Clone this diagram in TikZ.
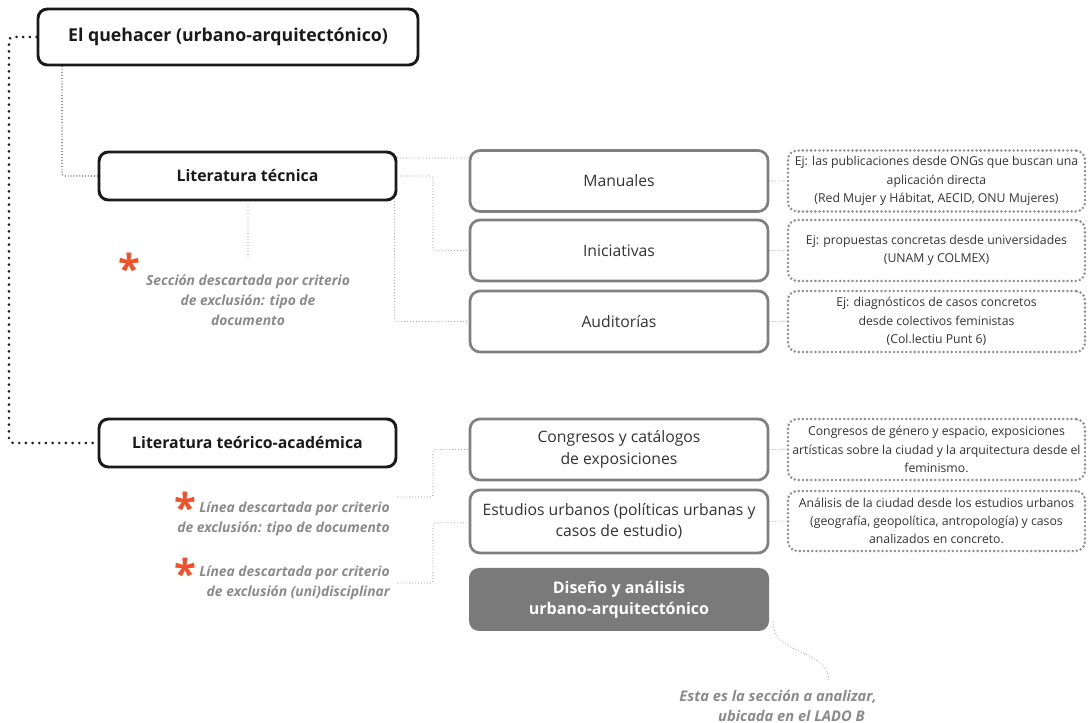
\documentclass[tikz,border=0pt]{standalone}
\usepackage{fontspec}
\setmainfont{Open Sans}
\usetikzlibrary{calc}
\definecolor{boxblack}{HTML}{1A1A1A}
\definecolor{boxgray}{HTML}{7F7F7F}
\definecolor{txtdark}{HTML}{333333}
\definecolor{notegray}{HTML}{8A8A8A}
\definecolor{dotgray}{HTML}{9A9A9A}
\definecolor{boxdot}{HTML}{8E8E8E}
\definecolor{fillgray}{HTML}{7A7A7A}
\definecolor{astred}{HTML}{F0502A}
\tikzset{
  mainbox/.style={draw=boxblack,line width=2.2pt,rounded corners=7pt,fill=white,
    text=boxblack,font=\bfseries,inner sep=0pt},
  subbox/.style={draw=boxgray,line width=2pt,rounded corners=7.5pt,fill=white,
    text=txtdark,font=\fontsize{11.8}{16}\selectfont,align=center,inner sep=0pt,
    minimum width=223.5pt,minimum height=45.75pt},
  graybox/.style={fill=fillgray,rounded corners=7.5pt,text=white,
    font=\fontsize{12}{16}\selectfont\bfseries,align=center,inner sep=0pt,
    minimum width=225pt,minimum height=47.25pt},
  notebox/.style={draw=boxdot,line width=2.1pt,dash pattern=on 0pt off 3.1pt,line cap=round,
    rounded corners=7pt,text=txtdark,font=\fontsize{9.2}{13.7}\selectfont,align=center,
    inner sep=0pt,minimum width=222.75pt,minimum height=45.75pt},
  thickdot/.style={draw=boxblack,line width=2.2pt,dash pattern=on 0pt off 5pt,line cap=round,rounded corners=3pt},
  blackdot/.style={draw=boxblack,line width=0.9pt,dash pattern=on 0pt off 2.2pt,line cap=round,rounded corners=2pt},
  graydot/.style={draw=dotgray,line width=0.8pt,dash pattern=on 0pt off 2.2pt,line cap=round,rounded corners=2pt},
  notetext/.style={text=notegray,font=\fontsize{10.4}{15}\selectfont\bfseries\itshape,inner sep=0pt},
  ast/.style={text=astred,font=\fontsize{30}{30}\selectfont\bfseries,inner sep=0pt,anchor=base}
}
\begin{document}
\begin{tikzpicture}[x=0.75pt,y=-0.75pt]
\useasboundingbox (0,0) rectangle (1090,723);
% main boxes
\node[mainbox,minimum width=285pt,minimum height=42pt,font=\fontsize{13.3}{15}\selectfont\bfseries] (top) at (228,37) {El quehacer (urbano-arquitectónico)};
\node[mainbox,minimum width=222.75pt,minimum height=36pt,font=\fontsize{11.9}{14}\selectfont\bfseries] (littec) at (247.5,176) {Literatura técnica};
\node[mainbox,minimum width=222.75pt,minimum height=36pt,font=\fontsize{11.9}{14}\selectfont\bfseries] (litteo) at (247.5,443) {Literatura teórico-académica};
% sub boxes
\node[subbox] (man) at (619,181) {Manuales};
\node[subbox] (ini) at (619,250.5) {Iniciativas};
\node[subbox] (aud) at (619,321.5) {Auditorías};
\node[subbox] (cong) at (619,449.5) {Congresos y catálogos\\de exposiciones};
\node[subbox,minimum height=47.25pt] (est) at (619,521.5) {Estudios urbanos (políticas urbanas y\\casos de estudio)};
\node[graybox] (dis) at (619,599.5) {Diseño y análisis\\urbano-arquitectónico};
% right notes
\node[notebox] (manr) at (936.5,181) {Ej: las publicaciones desde ONGs que buscan una\\aplicación directa\\(Red Mujer y Hábitat, AECID, ONU Mujeres)};
\node[notebox] (inir) at (936.5,250.5) {Ej: propuestas concretas desde universidades\\(UNAM y COLMEX)};
\node[notebox] (audr) at (936.5,321.5) {Ej: diagnósticos de casos concretos\\desde colectivos feministas\\(Col.lectiu Punt 6)};
\node[notebox] (congr) at (936.5,449.5) {Congresos de género y espacio, exposiciones\\artísticas sobre la ciudad y la arquitectura desde el\\feminismo.};
\node[notebox,minimum height=45pt] (estr) at (936.5,521) {Análisis de la ciudad desde los estudios urbanos\\(geografía, geopolítica, antropología) y casos\\analizados en concreto.};
% annotations
\node[notetext,align=center] (note0) at (248,300) {Sección descartada por criterio\\de exclusión: tipo de\\documento};
\node[ast] (ast0) at (129,284) {\smash{*}};
\node[notetext,align=right,anchor=east] (note1) at (390,519) {Línea descartada por criterio\\de exclusión: tipo de documento};
\node[ast] (ast1) at (185,523) {\smash{*}};
\node[notetext,align=right,anchor=east] (note2) at (390,583) {Línea descartada por criterio\\de exclusión (uni)disciplinar};
\node[ast] (ast2) at (185,589) {\smash{*}};
\node[notetext,align=right,anchor=east,font=\fontsize{11}{14.5}\selectfont\bfseries\itshape] (note3) at (877,706) {Esta es la sección a analizar,\\ubicada en el LADO B\hspace*{9pt}};
% helper coordinates
\coordinate (xL) at (9,0);
\coordinate (xT) at (62,0);
\coordinate (xK) at (433,0);
\coordinate (d0) at (248,259);
\coordinate (n1) at (398,497);
\coordinate (n2) at (398,583);
\coordinate (c1) at (773,622);
\coordinate (c2) at (829,682);
% connectors
\draw[thickdot] (top.west) -- (top.west -| xL) -- (litteo.west -| xL) -- (litteo.west);
\draw[blackdot] (top.south -| xT) -- (littec.west -| xT) -- (littec.west);
\draw[graydot] (littec.east |- 0,158) -- (man.west |- 0,158);
\draw[graydot] (littec.east) -- (littec.east -| xK) |- (ini.west);
\draw[graydot] ($(littec.south east)+(-3,0)$) |- (aud.west);
\draw[graydot] (littec.south -| d0) -- (d0);
\draw[graydot] (man.east) -- (manr.west);
\draw[graydot] (ini.east) -- (inir.west);
\draw[graydot] (aud.east) -- (audr.west);
\draw[graydot] (cong.east) -- (congr.west);
\draw[graydot] (est.east) -- (estr.west);
\draw[graydot] (n1) -- (n1 -| xK) |- (cong.west);
\draw[graydot] (n2) -- (n2 -| xK) |- ([yshift=-1pt]est.west);
\draw[graydot] (c1) .. controls (773,656) and (829,648) .. (c2);
\end{tikzpicture}
\end{document}
